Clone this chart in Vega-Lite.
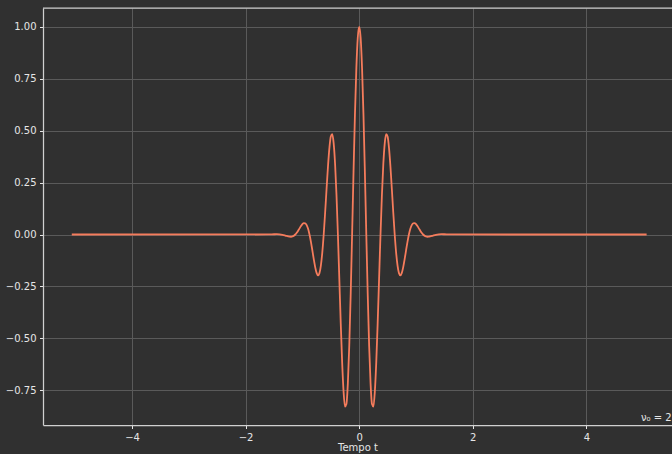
{
  "$schema": "https://vega.github.io/schema/vega-lite/v6.json",
  "width": 629,
  "height": 417,
  "autosize": "none",
  "padding": {"left": 43, "top": 8, "right": 0, "bottom": 29},
  "background": "#303030",
  "config": {
    "view": {"stroke": null, "fill": "#303030"},
    "font": "DejaVu Sans",
    "axis": {
      "labelFont": "DejaVu Sans",
      "titleFont": "DejaVu Sans",
      "labelFontSize": 10,
      "titleFontSize": 10,
      "labelColor": "#e6e6e6",
      "titleColor": "#e6e6e6",
      "titleFontWeight": "normal",
      "tickColor": "#e6e6e6",
      "tickSize": 3.5,
      "tickWidth": 1,
      "domainColor": "#d0d0d0",
      "domainWidth": 1.25,
      "gridColor": "#5a5a5a",
      "gridWidth": 1,
      "labelPadding": 3.5
    }
  },
  "datasets": {
    "curve": [
      {"t": -5.06, "y": 0},
      {"t": -1.6, "y": 0.00014},
      {"t": -1.5, "y": 0.00117},
      {"t": -1.45, "y": 0.00147},
      {"t": -1.4, "y": 0.00086},
      {"t": -1.35, "y": -0.0013},
      {"t": -1.3, "y": -0.00508},
      {"t": -1.25, "y": -0.00921},
      {"t": -1.225, "y": -0.01055},
      {"t": -1.2, "y": -0.01076},
      {"t": -1.175, "y": -0.00934},
      {"t": -1.15, "y": -0.00585},
      {"t": -1.125, "y": 0},
      {"t": -1.1, "y": 0.0082},
      {"t": -1.075, "y": 0.01835},
      {"t": -1.05, "y": 0.02963},
      {"t": -1.025, "y": 0.04069},
      {"t": -1.0, "y": 0.04979},
      {"t": -0.975, "y": 0.0549},
      {"t": -0.95, "y": 0.05396},
      {"t": -0.925, "y": 0.04513},
      {"t": -0.9, "y": 0.02721},
      {"t": -0.875, "y": 0},
      {"t": -0.85, "y": -0.03538},
      {"t": -0.825, "y": -0.07628},
      {"t": -0.8, "y": -0.11861},
      {"t": -0.775, "y": -0.15691},
      {"t": -0.75, "y": -0.18498},
      {"t": -0.725, "y": -0.19651},
      {"t": -0.7, "y": -0.18602},
      {"t": -0.675, "y": -0.14984},
      {"t": -0.65, "y": -0.087},
      {"t": -0.625, "y": 0},
      {"t": -0.6, "y": 0.10494},
      {"t": -0.575, "y": 0.218},
      {"t": -0.55, "y": 0.32646},
      {"t": -0.525, "y": 0.416},
      {"t": -0.5, "y": 0.47237},
      {"t": -0.475, "y": 0.48335},
      {"t": -0.45, "y": 0.4407},
      {"t": -0.425, "y": 0.34189},
      {"t": -0.4, "y": 0.19122},
      {"t": -0.375, "y": 0},
      {"t": -0.35, "y": -0.21399},
      {"t": -0.325, "y": -0.42816},
      {"t": -0.3, "y": -0.61759},
      {"t": -0.275, "y": -0.75801},
      {"t": -0.25, "y": -0.82903},
      {"t": -0.225, "y": -0.81706},
      {"t": -0.2, "y": -0.71754},
      {"t": -0.175, "y": -0.5362},
      {"t": -0.15, "y": -0.28885},
      {"t": -0.125, "y": 0},
      {"t": -0.1, "y": 0.29989},
      {"t": -0.075, "y": 0.57796},
      {"t": -0.05, "y": 0.80298},
      {"t": -0.025, "y": 0.94928},
      {"t": 0, "y": 1},
      {"t": 0.025, "y": 0.94928},
      {"t": 0.05, "y": 0.80298},
      {"t": 0.075, "y": 0.57796},
      {"t": 0.1, "y": 0.29989},
      {"t": 0.125, "y": 0},
      {"t": 0.15, "y": -0.28885},
      {"t": 0.175, "y": -0.5362},
      {"t": 0.2, "y": -0.71754},
      {"t": 0.225, "y": -0.81706},
      {"t": 0.25, "y": -0.82903},
      {"t": 0.275, "y": -0.75801},
      {"t": 0.3, "y": -0.61759},
      {"t": 0.325, "y": -0.42816},
      {"t": 0.35, "y": -0.21399},
      {"t": 0.375, "y": 0},
      {"t": 0.4, "y": 0.19122},
      {"t": 0.425, "y": 0.34189},
      {"t": 0.45, "y": 0.4407},
      {"t": 0.475, "y": 0.48335},
      {"t": 0.5, "y": 0.47237},
      {"t": 0.525, "y": 0.416},
      {"t": 0.55, "y": 0.32646},
      {"t": 0.575, "y": 0.218},
      {"t": 0.6, "y": 0.10494},
      {"t": 0.625, "y": 0},
      {"t": 0.65, "y": -0.087},
      {"t": 0.675, "y": -0.14984},
      {"t": 0.7, "y": -0.18602},
      {"t": 0.725, "y": -0.19651},
      {"t": 0.75, "y": -0.18498},
      {"t": 0.775, "y": -0.15691},
      {"t": 0.8, "y": -0.11861},
      {"t": 0.825, "y": -0.07628},
      {"t": 0.85, "y": -0.03538},
      {"t": 0.875, "y": 0},
      {"t": 0.9, "y": 0.02721},
      {"t": 0.925, "y": 0.04513},
      {"t": 0.95, "y": 0.05396},
      {"t": 0.975, "y": 0.0549},
      {"t": 1.0, "y": 0.04979},
      {"t": 1.025, "y": 0.04069},
      {"t": 1.05, "y": 0.02963},
      {"t": 1.075, "y": 0.01835},
      {"t": 1.1, "y": 0.0082},
      {"t": 1.125, "y": 0},
      {"t": 1.15, "y": -0.00585},
      {"t": 1.175, "y": -0.00934},
      {"t": 1.2, "y": -0.01076},
      {"t": 1.225, "y": -0.01055},
      {"t": 1.25, "y": -0.00921},
      {"t": 1.3, "y": -0.00508},
      {"t": 1.35, "y": -0.0013},
      {"t": 1.4, "y": 0.00086},
      {"t": 1.45, "y": 0.00147},
      {"t": 1.5, "y": 0.00117},
      {"t": 1.6, "y": 0.00014},
      {"t": 5.06, "y": 0}
    ],
    "spine": [{"top": 1.0915}],
    "note": [{"t": 5.5, "y": -0.897, "label": "ν₀ = 2"}]
  },
  "layer": [
    {
      "data": {"name": "curve"},
      "mark": {"type": "line", "color": "#f57c5c", "strokeWidth": 1.8, "clip": true, "interpolate": "monotone"},
      "encoding": {
        "x": {
          "field": "t",
          "type": "quantitative",
          "scale": {"domain": [-5.567, 5.507], "nice": false, "zero": false},
          "axis": {"title": "Tempo t", "values": [-4, -2, 0, 2, 4], "format": "d", "titlePadding": 0, "grid": true}
        },
        "y": {
          "field": "y",
          "type": "quantitative",
          "scale": {"domain": [-0.918, 1.0915], "nice": false, "zero": false},
          "axis": {"title": null, "values": [-0.75, -0.5, -0.25, 0, 0.25, 0.5, 0.75, 1.0], "format": ".2f", "grid": true}
        }
      }
    },
    {
      "data": {"name": "spine"},
      "mark": {"type": "rule", "color": "#d0d0d0", "strokeWidth": 1.25},
      "encoding": {"y": {"field": "top", "type": "quantitative"}}
    },
    {
      "data": {"name": "note"},
      "mark": {"type": "text", "align": "right", "baseline": "alphabetic", "fontSize": 10, "font": "DejaVu Sans", "color": "#e6e6e6"},
      "encoding": {
        "x": {"field": "t", "type": "quantitative"},
        "y": {"field": "y", "type": "quantitative"},
        "text": {"field": "label"}
      }
    }
  ]
}
